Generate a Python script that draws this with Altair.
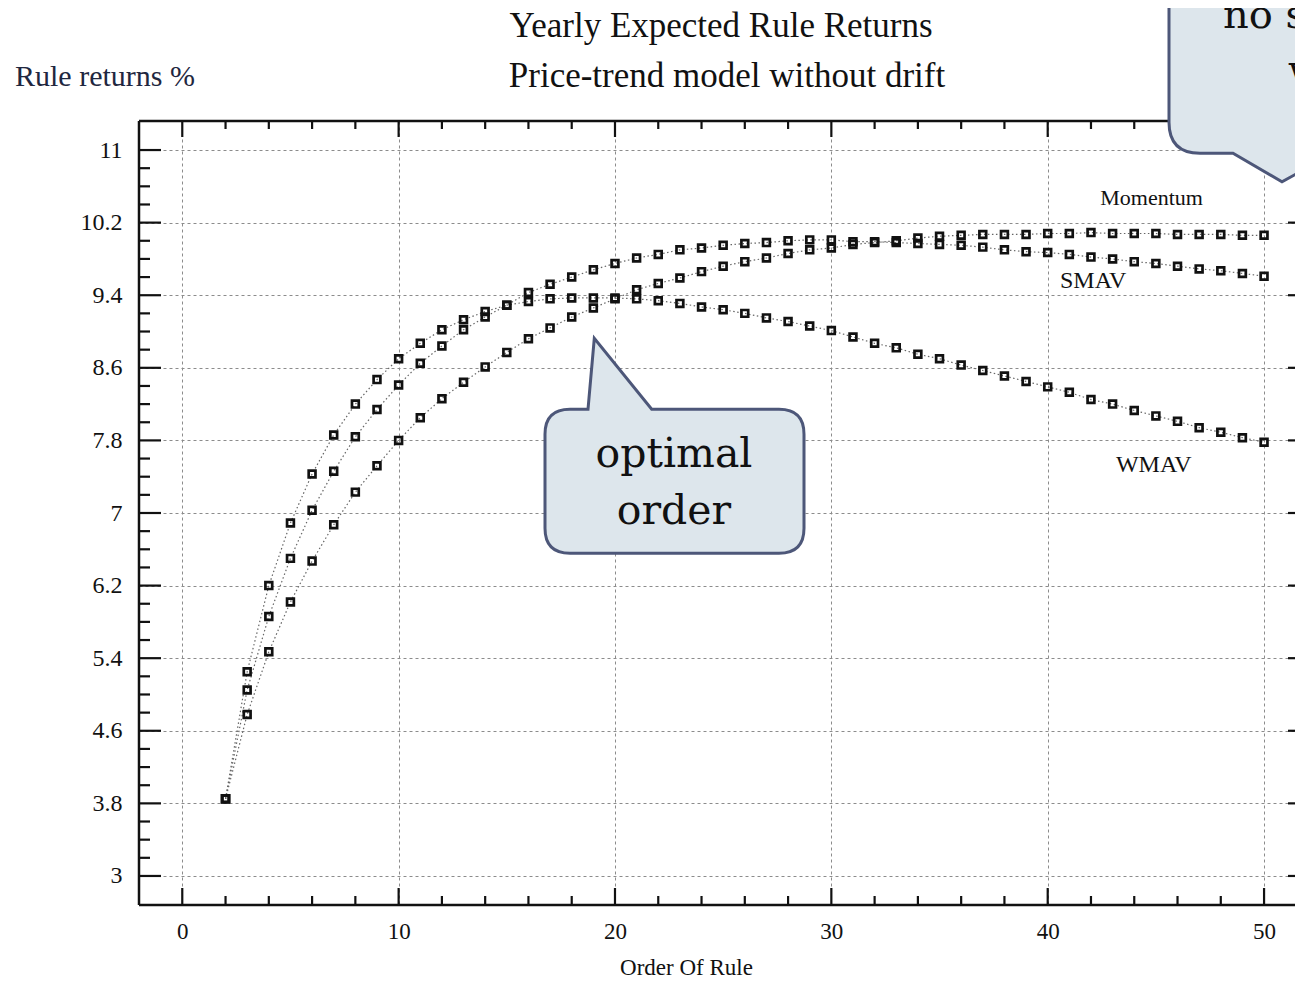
import altair as alt
import pandas as pd

# ---------------- data ----------------
orders = list(range(2, 51))
wmav = [3.85, 5.25, 6.20, 6.89, 7.43, 7.86, 8.20, 8.47, 8.70, 8.87,
        9.02, 9.13, 9.22, 9.29, 9.33, 9.36, 9.37, 9.37, 9.37, 9.36,
        9.34, 9.31, 9.27, 9.24, 9.20, 9.15, 9.11, 9.06, 9.01, 8.94,
        8.87, 8.82, 8.75, 8.70, 8.63, 8.57, 8.51, 8.45, 8.39, 8.33,
        8.25, 8.20, 8.13, 8.07, 8.01, 7.94, 7.89, 7.83, 7.78]
smav = [3.85, 5.05, 5.86, 6.50, 7.03, 7.46, 7.84, 8.14, 8.41, 8.65,
        8.84, 9.02, 9.16, 9.29, 9.43, 9.52, 9.60, 9.68, 9.75, 9.81,
        9.85, 9.90, 9.92, 9.95, 9.97, 9.98, 10.00, 10.01, 10.01, 9.99,
        9.99, 9.98, 9.97, 9.96, 9.95, 9.93, 9.90, 9.88, 9.87, 9.85,
        9.82, 9.80, 9.77, 9.75, 9.72, 9.69, 9.67, 9.64, 9.61]
momentum = [3.85, 4.78, 5.47, 6.02, 6.47, 6.87, 7.23, 7.52, 7.80, 8.05,
            8.26, 8.44, 8.61, 8.77, 8.92, 9.04, 9.16, 9.26, 9.36, 9.46,
            9.53, 9.59, 9.66, 9.72, 9.77, 9.81, 9.86, 9.90, 9.92, 9.96,
            9.98, 10.00, 10.03, 10.05, 10.06, 10.07, 10.07, 10.07, 10.08, 10.08,
            10.09, 10.08, 10.08, 10.08, 10.07, 10.07, 10.07, 10.06, 10.06]
series_names = ["WMAV", "SMAV", "Momentum"]

y_tick_values = [3, 3.8, 4.6, 5.4, 6.2, 7, 7.8, 8.6, 9.4, 10.2, 11]
x_tick_values = [0, 10, 20, 30, 40, 50]

label_names = ["Momentum", "SMAV", "WMAV"]
label_orders = [44.8, 42.1, 44.9]
label_returns = [10.39, 9.48, 7.45]

title_text = "Yearly Expected Rule Returns"
subtitle_text = "Price-trend model without drift"
y_title_text = "Rule returns %"
x_title_text = "Order Of Rule"

# ---------------- layout / style ----------------
W, H = 1156, 784          # visible plot area (page is cut on the right)
W_FULL = 1169             # where the (cut-off) right frame would lie
SERIF = "Liberation Serif"
CALLOUT_FONT = "DejaVu Serif"
INK = "#111111"

rows = []
for name, vals in zip(series_names, [wmav, smav, momentum]):
    for o, v in zip(orders, vals):
        rows.append({"series": name, "x": o, "y": v})
df = pd.DataFrame(rows)
one = pd.DataFrame({"k": [0]})

xs = alt.Scale(domain=[-2, 51.43], nice=False, zero=False)
ys = alt.Scale(domain=[2.68, 11.32], nice=False, zero=False)

x_axis = alt.Axis(values=x_tick_values, grid=True, gridDash=[3, 3],
                  gridColor="#8c8c8c", gridWidth=1, ticks=False, domain=False,
                  labelFont=SERIF, labelFontSize=23, labelColor=INK,
                  labelPadding=15, labelFlush=False, labelOverlap=False,
                  title=x_title_text, titleFont=SERIF, titleFontSize=23,
                  titleFontWeight="normal", titleColor=INK, titleX=547,
                  titleY=69, titleBaseline="alphabetic", titleAlign="center")
y_axis = alt.Axis(values=y_tick_values, format=".1~f", grid=True,
                  gridDash=[3, 3], gridColor="#8c8c8c", gridWidth=1,
                  ticks=False, domain=False, labelFont=SERIF,
                  labelFontSize=24, labelColor=INK, labelPadding=17,
                  labelFlush=False, labelOverlap=False, title=None)

X = alt.X("x:Q", scale=xs, axis=x_axis)
Y = alt.Y("y:Q", scale=ys, axis=y_axis)

lines = alt.Chart(df).mark_line(color="#666666", strokeWidth=1.2,
                                strokeDash=[1.5, 2.5]).encode(
    x=X, y=Y, detail="series:N")
points = alt.Chart(df).mark_point(shape="square", filled=False, color=INK,
                                  strokeWidth=2.7, size=46, opacity=1).encode(
    x=X, y=Y, detail="series:N")

# inward tick marks
y_minor = [round(3 + 0.2 * k, 1) for k in range(1, 40) if k % 4 != 0]
x_minor = [k for k in range(2, 50, 2) if k % 10 != 0]


def hticks(vals, x0, x1):
    return alt.Chart(pd.DataFrame({"y": vals})).mark_rule(
        color=INK, strokeWidth=2.2).encode(y=Y, x=alt.value(x0), x2=alt.value(x1))


def vticks(vals, y0, y1):
    return alt.Chart(pd.DataFrame({"x": vals})).mark_rule(
        color=INK, strokeWidth=2.2).encode(x=X, y=alt.value(y0), y2=alt.value(y1))


tick_layers = [
    hticks(y_tick_values, 0, 22), hticks(y_minor, 0, 11),
    hticks(y_tick_values, W_FULL, W_FULL - 20), hticks(y_minor, W_FULL, W_FULL - 10),
    vticks(x_tick_values, H, H - 17), vticks(x_minor, H, H - 9),
    vticks(x_tick_values, 0, 16), vticks(x_minor, 0, 8),
]

frame = [
    alt.Chart(one).mark_rule(color=INK, strokeWidth=2.5).encode(
        x=alt.value(0), y=alt.value(0), y2=alt.value(H)),
    alt.Chart(one).mark_rule(color=INK, strokeWidth=2.5).encode(
        x=alt.value(0), x2=alt.value(W_FULL), y=alt.value(0)),
    alt.Chart(one).mark_rule(color=INK, strokeWidth=2.5).encode(
        x=alt.value(0), x2=alt.value(W_FULL), y=alt.value(H)),
]

labels = []
for name, lx, ly, fs in zip(label_names, label_orders, label_returns, [22, 24, 24]):
    labels.append(alt.Chart(pd.DataFrame({"x": [lx], "y": [ly], "t": [name]}))
                  .mark_text(font=SERIF, fontSize=fs, color=INK, baseline="alphabetic")
                  .encode(x=X, y=Y, text="t:N"))


def px_text(txt, x, y, size, font=SERIF, align="center", color=INK):
    return alt.Chart(one).mark_text(text=txt, font=font, fontSize=size,
                                    align=align, baseline="alphabetic",
                                    color=color).encode(x=alt.value(x), y=alt.value(y))


def callout(path, x, y):
    return alt.Chart(one).mark_point(shape=path, size=4, filled=True,
                                     fill="#dde6ec", stroke="#4d5779",
                                     strokeWidth=3, opacity=1).encode(
        x=alt.value(x), y=alt.value(y))


optimal_path = ("M -104.5 -72 L -86.5 -72 L -80.2 -143 L -22.8 -72 L 104.5 -72 "
                "Q 129.5 -72 129.5 -47 L 129.5 47 Q 129.5 72 104.5 72 "
                "L -104.5 72 Q -129.5 72 -129.5 47 L -129.5 -47 "
                "Q -129.5 -72 -104.5 -72 Z")
corner_path = ("M -121 -100 L 150 -100 L 150 93.3 L 44 93.3 L -8 121.7 "
               "L -57 93.3 L -90 93.3 Q -121 93.3 -121 62.3 Z")

texts = [
    px_text(title_text, 582, -84, 35),
    px_text(subtitle_text, 588, -34, 35),
    px_text(y_title_text, -124, -35, 30, align="left", color="#1f2740"),
]

callouts = [
    callout(optimal_path, 535.5, 360.3),
    callout(corner_path, 1151, -61),
    px_text("optimal", 535, 346, 41, font=CALLOUT_FONT),
    px_text("order", 535, 403, 41, font=CALLOUT_FONT),
    px_text("no s", 1084, -93, 40, font=CALLOUT_FONT, align="left"),
    px_text("w", 1149, -38, 40, font=CALLOUT_FONT, align="left"),
]

chart = alt.layer(
    lines, points, *tick_layers, *frame, *labels, *texts, *callouts
).properties(
    width=W, height=H,
    autosize=alt.AutoSizeParams(type="none"),
    padding={"left": 131, "top": 113, "right": 0, "bottom": 70},
    background="white",
).configure_view(stroke="transparent")

chart.save("out.html", embed_options={"renderer": "svg", "actions": False})
